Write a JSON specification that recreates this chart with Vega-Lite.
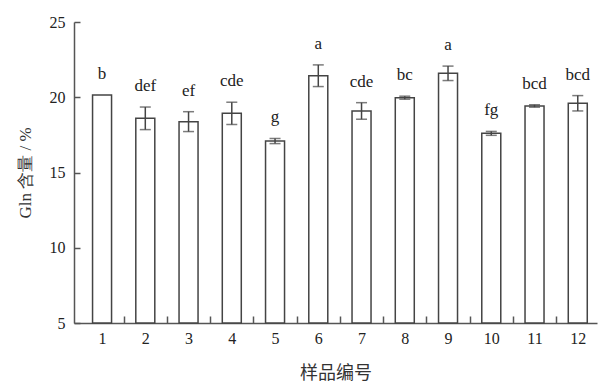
{
  "$schema": "https://vega.github.io/schema/vega-lite/v6.json",
  "width": 523,
  "height": 301,
  "autosize": "none",
  "padding": {"left": 74, "top": 22, "right": 2, "bottom": 60},
  "background": "white",
  "config": {
    "view": {"stroke": null},
    "axis": {
      "labelFont": "Liberation Serif",
      "labelFontSize": 16,
      "labelColor": "#222",
      "domainColor": "#555",
      "domainWidth": 1.5,
      "tickColor": "#555",
      "tickWidth": 1.5,
      "grid": false,
      "titleFont": "Noto Sans CJK SC",
      "titleFontWeight": "normal",
      "titleColor": "#333"
    }
  },
  "data": {
    "values": [
      {"sample": 1, "mean": 20.15, "lo": 20.15, "hi": 20.15, "label": "b"},
      {"sample": 2, "mean": 18.6, "lo": 17.85, "hi": 19.35, "label": "def"},
      {"sample": 3, "mean": 18.38, "lo": 17.72, "hi": 19.04, "label": "ef"},
      {"sample": 4, "mean": 18.93, "lo": 18.19, "hi": 19.67, "label": "cde"},
      {"sample": 5, "mean": 17.09, "lo": 16.92, "hi": 17.26, "label": "g"},
      {"sample": 6, "mean": 21.43, "lo": 20.71, "hi": 22.15, "label": "a"},
      {"sample": 7, "mean": 19.09, "lo": 18.54, "hi": 19.64, "label": "cde"},
      {"sample": 8, "mean": 19.97, "lo": 19.87, "hi": 20.07, "label": "bc"},
      {"sample": 9, "mean": 21.59, "lo": 21.11, "hi": 22.07, "label": "a"},
      {"sample": 10, "mean": 17.6, "lo": 17.47, "hi": 17.73, "label": "fg"},
      {"sample": 11, "mean": 19.42, "lo": 19.34, "hi": 19.5, "label": "bcd"},
      {"sample": 12, "mean": 19.6, "lo": 19.09, "hi": 20.11, "label": "bcd"}
    ]
  },
  "resolve": {"axis": {"x": "independent"}},
  "layer": [
    {
      "mark": {"type": "bar", "fill": "white", "stroke": "#444", "strokeWidth": 1.5, "size": 19},
      "encoding": {
        "x": {
          "field": "sample", "type": "quantitative",
          "scale": {"domain": [0.467, 12.329], "nice": false, "zero": false},
          "axis": {
            "orient": "bottom",
            "values": [1, 2, 3, 4, 5, 6, 7, 8, 9, 10, 11, 12],
            "format": "d",
            "ticks": false,
            "labelPadding": 7,
            "labelFontSize": 16,
            "title": "样品编号",
            "titleFontSize": 18,
            "titlePadding": 18
          }
        },
        "y": {
          "field": "mean", "type": "quantitative",
          "scale": {"domain": [5, 25], "nice": false, "zero": false},
          "axis": {
            "values": [5, 10, 15, 20, 25],
            "tickSize": -6,
            "labelPadding": 15,
            "title": "Gln 含量 / %",
            "titleFont": "Liberation Serif",
            "titleFontSize": 17,
            "titlePadding": 15
          }
        },
        "y2": {"datum": 5}
      }
    },
    {
      "transform": [{"filter": "datum.hi > datum.lo"}],
      "mark": {"type": "rule", "stroke": "#444", "strokeWidth": 1.5},
      "encoding": {
        "x": {
          "field": "sample", "type": "quantitative",
          "axis": {
            "orient": "bottom",
            "values": [1.5, 2.5, 3.5, 4.5, 5.5, 6.5, 7.5, 8.5, 9.5, 10.5, 11.5],
            "labels": false,
            "domain": false,
            "tickSize": -7,
            "title": null
          }
        },
        "y": {"field": "lo", "type": "quantitative"},
        "y2": {"field": "hi"}
      }
    },
    {
      "transform": [{"filter": "datum.hi > datum.lo"}],
      "mark": {"type": "tick", "orient": "horizontal", "color": "#444", "size": 11, "thickness": 1.5},
      "encoding": {
        "x": {"field": "sample", "type": "quantitative", "axis": null},
        "y": {"field": "hi", "type": "quantitative"}
      }
    },
    {
      "transform": [{"filter": "datum.hi > datum.lo"}],
      "mark": {"type": "tick", "orient": "horizontal", "color": "#444", "size": 11, "thickness": 1.5},
      "encoding": {
        "x": {"field": "sample", "type": "quantitative", "axis": null},
        "y": {"field": "lo", "type": "quantitative"}
      }
    },
    {
      "mark": {"type": "text", "font": "Liberation Serif", "fontSize": 17, "color": "#222", "baseline": "alphabetic", "dy": -16},
      "encoding": {
        "x": {"field": "sample", "type": "quantitative", "axis": null},
        "y": {"field": "hi", "type": "quantitative"},
        "text": {"field": "label"}
      }
    }
  ]
}
